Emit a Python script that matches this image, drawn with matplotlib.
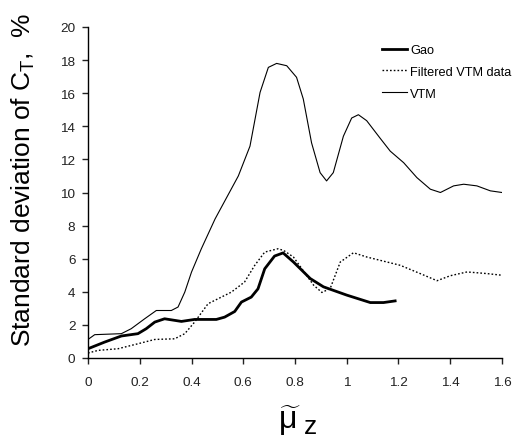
import matplotlib
matplotlib.use("Agg")
import matplotlib.pyplot as plt

plt.rcParams['font.family'] = ['Liberation Sans', 'DejaVu Sans']
plt.rcParams['mathtext.fontset'] = 'custom'
plt.rcParams['mathtext.rm'] = 'Liberation Sans'
plt.rcParams['mathtext.it'] = 'Liberation Sans'

# VTM
vtm_x = [0.0, 0.026, 0.129, 0.167, 0.219, 0.264, 0.322, 0.348, 0.374, 0.40, 0.438,
         0.491, 0.581, 0.626, 0.665, 0.697, 0.729, 0.768, 0.806, 0.832, 0.864, 0.897,
         0.922, 0.948, 0.987, 1.019, 1.045, 1.077, 1.128, 1.168, 1.220, 1.271, 1.323,
         1.362, 1.413, 1.452, 1.503, 1.555, 1.6]
vtm_y = [1.12, 1.41, 1.47, 1.77, 2.37, 2.87, 2.87, 3.08, 3.98, 5.19, 6.6,
         8.4, 11.0, 12.8, 16.05, 17.56, 17.8, 17.66, 16.96, 15.65, 13.0, 11.2,
         10.7, 11.2, 13.4, 14.5, 14.7, 14.34, 13.3, 12.5, 11.8, 10.9, 10.2,
         10.0, 10.4, 10.5, 10.4, 10.1, 10.0]

# Gao
gao_x = [0.0, 0.064, 0.129, 0.193, 0.225, 0.258, 0.296, 0.361, 0.412, 0.496, 0.528,
         0.567, 0.593, 0.631, 0.657, 0.683, 0.721, 0.754, 0.794, 0.859, 0.910, 1.0,
         1.091, 1.142, 1.187]
gao_y = [0.56, 0.96, 1.33, 1.47, 1.77, 2.17, 2.37, 2.21, 2.33, 2.33, 2.47,
         2.81, 3.38, 3.68, 4.18, 5.39, 6.16, 6.35, 5.8, 4.8, 4.3, 3.8,
         3.35, 3.35, 3.45]

# Filtered VTM data
flt_x = [0.0, 0.039, 0.116, 0.193, 0.258, 0.335, 0.374, 0.412, 0.464, 0.554, 0.605,
         0.644, 0.683, 0.734, 0.756, 0.794, 0.872, 0.904, 0.936, 0.975, 1.026, 1.078,
         1.207, 1.284, 1.349, 1.40, 1.465, 1.542, 1.6]
flt_y = [0.3, 0.46, 0.56, 0.86, 1.12, 1.16, 1.47, 2.17, 3.28, 3.98, 4.59,
         5.59, 6.4, 6.6, 6.5, 6.1, 4.4, 3.96, 4.2, 5.8, 6.36, 6.1,
         5.6, 5.1, 4.67, 4.97, 5.2, 5.1, 5.0]

x_ticks = [0, 0.2, 0.4, 0.6, 0.8, 1.0, 1.2, 1.4, 1.6]
x_tick_labels = ['0', '0.2', '0.4', '0.6', '0.8', '1', '1.2', '1.4', '1.6']
y_ticks = list(range(0, 21, 2))

W, H = 528, 439
fig = plt.figure(figsize=(W / 100, H / 100), dpi=100)
ax = fig.add_axes([88 / W, (H - 359) / H, 414 / W, 331 / H])

ax.plot(gao_x, gao_y, color='black', lw=2.0, label='Gao')
ax.plot(flt_x, flt_y, color='black', lw=1.0, linestyle=(0, (1.2, 1.5)), label='Filtered VTM data')
ax.plot(vtm_x, vtm_y, color='black', lw=0.8, label='VTM')

ax.set_xlim(0, 1.6)
ax.set_ylim(0, 20)
ax.set_xticks(x_ticks)
ax.set_xticklabels(x_tick_labels)
ax.set_yticks(y_ticks)
for s in ['top', 'right']:
    ax.spines[s].set_visible(False)
for s in ['left', 'bottom']:
    ax.spines[s].set_linewidth(1.0)
ax.tick_params(direction='out', length=4, width=1, labelsize=9.7, colors='#222222')
ax.tick_params(axis='y', pad=5)
ax.tick_params(axis='x', pad=9)

fig.text(23 / W, 1 - 180 / H, r'Standard deviation of C$_\mathrm{T}$,  %', rotation=90,
         ha='center', va='center', fontsize=19)
fig.text(290 / W, 1 - 421 / H, r'$\widetilde{\mathrm{\mu}}$', ha='center', va='center', fontsize=23)
fig.text(304 / W, 1 - 427 / H, 'z', ha='left', va='center', fontsize=19)

leg = ax.legend(loc='upper left', bbox_to_anchor=(382 / W, (H - 45) / H),
                bbox_transform=fig.transFigure, frameon=False, borderpad=0, borderaxespad=0,
                fontsize=9.2, handlelength=1.95, handletextpad=0.25, labelspacing=0.78)

fig.savefig('out.png', dpi=100)
